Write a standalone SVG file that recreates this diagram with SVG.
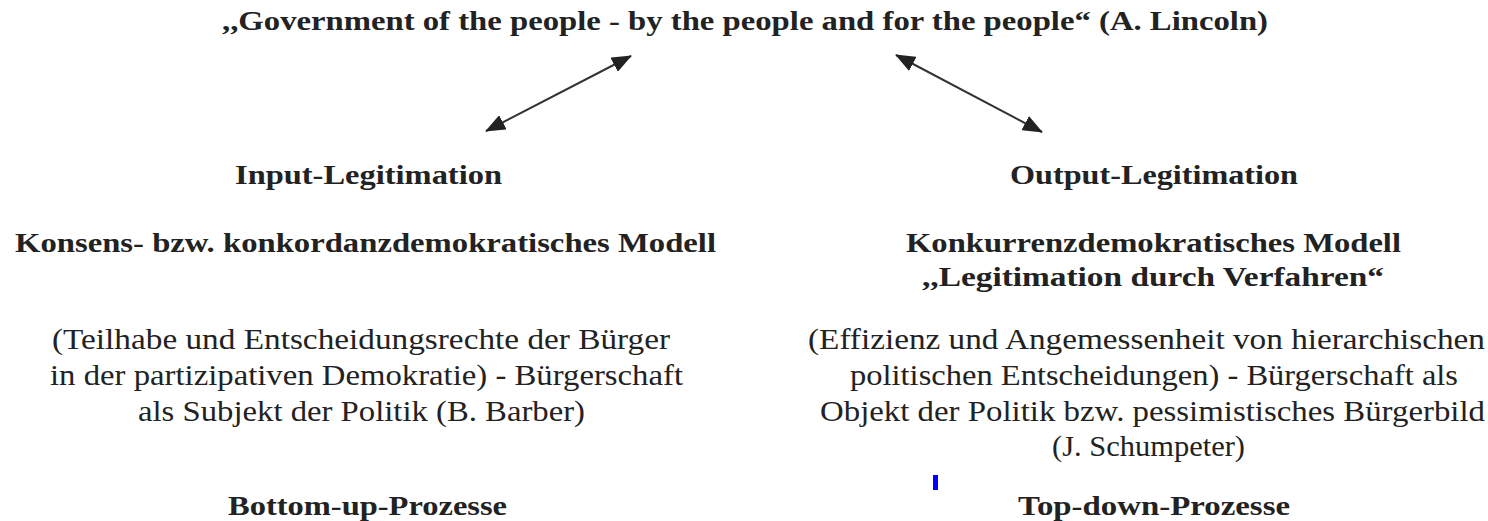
<svg xmlns="http://www.w3.org/2000/svg" width="1488" height="521" viewBox="0 0 1488 521">
<style>
text{font-family:"Liberation Serif","Times New Roman",serif;fill:#222;font-size:29px;text-anchor:start}
.b{font-weight:bold;font-size:28px}
.c{stroke:#333;stroke-width:2;fill:none}
</style>
<defs>
<marker id="ah" markerUnits="userSpaceOnUse" markerWidth="20" markerHeight="16" viewBox="0 0 20 16" refX="19" refY="8" orient="auto-start-reverse">
<path d="M0,0 L20,8 L0,16 z" fill="#222"/>
</marker>
</defs>
<rect width="1488" height="521" fill="#fff"/>
<g id="title">
<text class="b" x="222" y="30" textLength="1046" lengthAdjust="spacingAndGlyphs">,,Government of the people - by the people and for the people“ (A. Lincoln)</text>
</g>
<g id="connectors">
<line class="c" x1="486" y1="131" x2="631" y2="56" marker-start="url(#ah)" marker-end="url(#ah)"/>
<line class="c" x1="896" y1="55" x2="1042" y2="132" marker-start="url(#ah)" marker-end="url(#ah)"/>
</g>
<g id="input">
<text class="b" x="235" y="184" textLength="267" lengthAdjust="spacingAndGlyphs">Input-Legitimation</text>
<text class="b" x="15" y="252" textLength="701" lengthAdjust="spacingAndGlyphs">Konsens- bzw. konkordanzdemokratisches Modell</text>
<text x="52" y="349" textLength="618" lengthAdjust="spacingAndGlyphs">(Teilhabe und Entscheidungsrechte der Bürger</text>
<text x="50" y="385" textLength="633" lengthAdjust="spacingAndGlyphs">in der partizipativen Demokratie) - Bürgerschaft</text>
<text x="138" y="421" textLength="447" lengthAdjust="spacingAndGlyphs">als Subjekt der Politik (B. Barber)</text>
<text class="b" x="228" y="515" textLength="279" lengthAdjust="spacingAndGlyphs">Bottom-up-Prozesse</text>
</g>
<g id="output">
<text class="b" x="1010" y="184" textLength="288" lengthAdjust="spacingAndGlyphs">Output-Legitimation</text>
<text class="b" x="906" y="252" textLength="495" lengthAdjust="spacingAndGlyphs">Konkurrenzdemokratisches Modell</text>
<text class="b" x="922" y="286" textLength="462" lengthAdjust="spacingAndGlyphs">,,Legitimation durch Verfahren“</text>
<text x="808" y="349" textLength="677" lengthAdjust="spacingAndGlyphs">(Effizienz und Angemessenheit von hierarchischen</text>
<text x="850" y="385" textLength="608" lengthAdjust="spacingAndGlyphs">politischen Entscheidungen) - Bürgerschaft als</text>
<text x="820" y="421" textLength="665" lengthAdjust="spacingAndGlyphs">Objekt der Politik bzw. pessimistisches Bürgerbild</text>
<text x="1052" y="456" textLength="193" lengthAdjust="spacingAndGlyphs">(J. Schumpeter)</text>
<text class="b" x="1018" y="515" textLength="272" lengthAdjust="spacingAndGlyphs">Top-down-Prozesse</text>
</g>
<rect x="933" y="475" width="5" height="15" fill="#0000ff"/>
</svg>
